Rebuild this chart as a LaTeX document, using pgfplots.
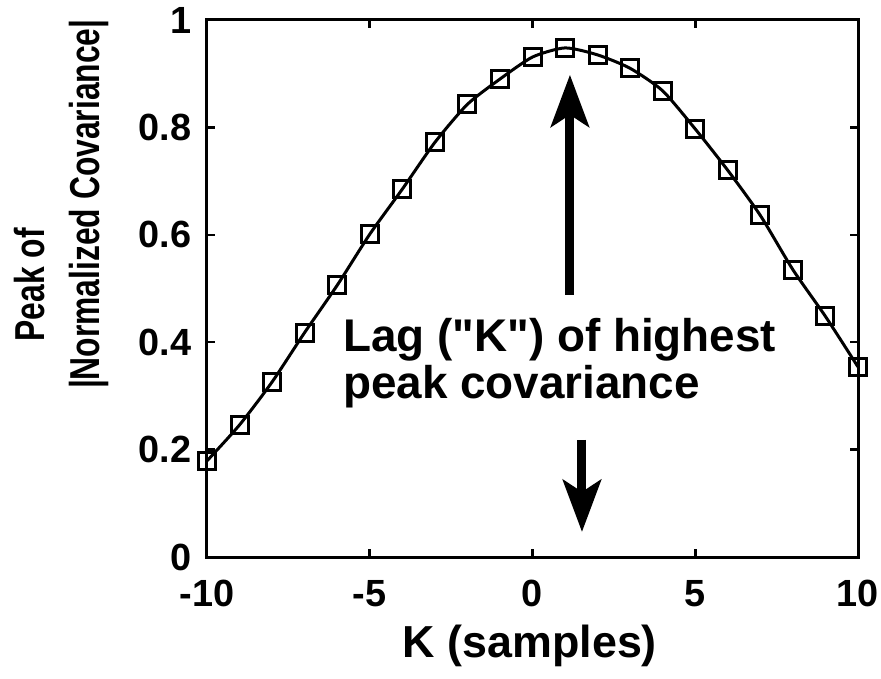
\documentclass[border=0pt]{standalone}
\usepackage{fontspec}
\setmainfont{Liberation Sans}
\usepackage{pgfplots}
\pgfplotsset{compat=1.18}
\usetikzlibrary{arrows.meta}
\begin{document}
\begin{tikzpicture}
\begin{axis}[name=ax, width=651bp, height=537bp, scale only axis,
  xmin=-10, xmax=10, ymin=0, ymax=1,
  xtick={-10,-5,0,5,10}, xticklabels={-10,-5,0,5,10},
  ytick={0,0.2,0.4,0.6,0.8,1}, yticklabels={0,0.2,0.4,0.6,0.8,1},
  tick align=inside, major tick length=8bp,
  tick style={line width=2.5bp, black},
  axis line style={line width=3bp},
  ticklabel style={font=\fontsize{38}{42}\selectfont\bfseries},
  xticklabel style={yshift=-20bp},
  yticklabel style={xshift=-12bp},
  xlabel={K (samples)},
  xlabel style={font=\fontsize{45}{48}\selectfont\bfseries, at={(axis description cs:0.496,-0.188)}, anchor=base},
  clip=false,
]
\addplot[black, line width=3bp, smooth, tension=0.4, mark=square, mark size=8.5bp, mark options={line width=3bp, solid}] coordinates {
(-10,0.179) (-9,0.246) (-8,0.326) (-7,0.418) (-6,0.506) (-5,0.601) (-4,0.685) (-3,0.772) (-2,0.843) (-1,0.890) (0,0.931)
(1,0.948) (2,0.935) (3,0.910) (4,0.868) (5,0.797) (6,0.720) (7,0.636) (8,0.535) (9,0.448) (10,0.354)
};
\draw[line width=9bp, -{Stealth[length=52bp, width=38bp, inset=12bp]}] (axis cs:1.15,0.488) -- (axis cs:1.15,0.898);
\draw[line width=9bp, -{Stealth[length=52bp, width=38bp, inset=12bp]}] (axis cs:1.52,0.218) -- (axis cs:1.52,0.0466);
\node[anchor=base west, font=\fontsize{46}{48}\selectfont\bfseries, inner sep=0pt] at (axis cs:-5.82,0.382) {Lag (\textquotedbl K\textquotedbl) of highest};
\node[anchor=base west, font=\fontsize{46}{48}\selectfont\bfseries, inner sep=0pt] at (axis cs:-5.82,0.296) {peak covariance};
\node[rotate=90, font=\fontsize{42}{46}\selectfont\bfseries, inner sep=0pt] at (rel axis cs:-0.272,0.507) {\scalebox{0.76}[1]{Peak of}};
\node[rotate=90, font=\fontsize{42}{46}\selectfont\bfseries, inner sep=0pt] at (rel axis cs:-0.181,0.657) {\scalebox{0.76}[1]{|Normalized Covariance|}};
\end{axis}
\path (ax.south west) ++(-207bp,-122bp) coordinate (bl);
\path (ax.north east) ++(23bp,20bp) coordinate (tr);
\pgfresetboundingbox
\path[use as bounding box] (bl) rectangle (tr);
\end{tikzpicture}
\end{document}
